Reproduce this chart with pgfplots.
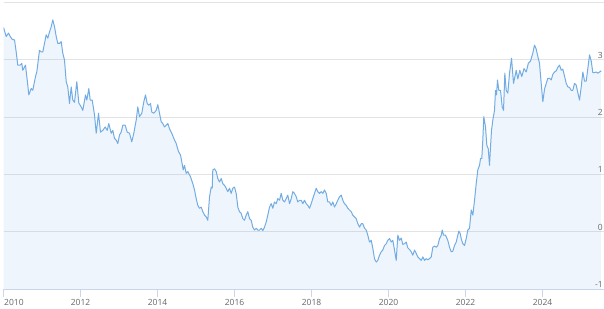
\documentclass[border=0pt]{standalone}
\usepackage{fontspec}
\setmainfont{Open Sans}
\usepackage{pgfplots}
\usepackage{pgfplotstable}
\pgfplotsset{compat=1.18}
\definecolor{linec}{HTML}{72ACE3}
\definecolor{fillc}{HTML}{7CB5EC}
\definecolor{gridc}{HTML}{E3E3E3}
\definecolor{axisc}{HTML}{CCD6EB}
\definecolor{labc}{HTML}{666666}
\pgfplotstableread{
x y
2010.000 3.57
2010.070 3.41
2010.130 3.47
2010.174 3.41
2010.226 3.36
2010.286 3.35
2010.330 3.14
2010.371 2.91
2010.434 2.91
2010.475 2.94
2010.501 2.82
2010.571 2.91
2010.631 2.56
2010.657 2.39
2010.719 2.50
2010.761 2.47
2010.831 2.71
2010.865 2.79
2010.935 3.17
2010.979 3.14
2011.021 3.14
2011.065 3.29
2011.109 3.44
2011.151 3.38
2011.195 3.49
2011.239 3.58
2011.281 3.70
2011.325 3.58
2011.369 3.41
2011.410 3.29
2011.455 3.29
2011.499 3.32
2011.540 3.12
2011.584 3.00
2011.629 2.62
2011.670 2.53
2011.714 2.24
2011.758 2.53
2011.800 2.30
2011.844 2.26
2011.904 2.62
2011.956 2.25
2012.018 2.18
2012.060 2.12
2012.130 2.39
2012.164 2.30
2012.216 2.50
2012.252 2.30
2012.304 2.30
2012.364 2.04
2012.408 1.72
2012.468 2.07
2012.519 1.74
2012.579 1.77
2012.642 1.83
2012.694 1.77
2012.735 1.89
2012.797 1.72
2012.839 1.77
2012.883 1.63
2012.927 1.60
2012.969 1.54
2013.013 1.69
2013.057 1.74
2013.099 1.86
2013.161 1.86
2013.213 1.74
2013.273 1.72
2013.332 1.57
2013.384 1.72
2013.447 1.95
2013.488 2.18
2013.532 2.01
2013.592 2.07
2013.644 2.27
2013.688 2.39
2013.732 2.24
2013.774 2.21
2013.818 2.24
2013.852 2.09
2013.904 2.07
2013.966 2.12
2014.008 2.22
2014.052 2.07
2014.096 1.92
2014.138 1.89
2014.182 1.83
2014.226 1.86
2014.268 1.89
2014.312 1.80
2014.371 1.72
2014.423 1.63
2014.486 1.54
2014.545 1.40
2014.597 1.34
2014.631 1.22
2014.668 1.08
2014.701 1.16
2014.745 1.02
2014.787 1.05
2014.857 0.96
2014.917 0.84
2014.961 0.73
2015.005 0.58
2015.047 0.46
2015.091 0.41
2015.135 0.43
2015.177 0.35
2015.221 0.29
2015.265 0.26
2015.306 0.20
2015.351 0.61
2015.395 0.78
2015.421 0.76
2015.436 1.08
2015.481 1.10
2015.525 1.05
2015.566 0.93
2015.610 0.87
2015.655 0.93
2015.696 0.84
2015.740 0.81
2015.784 0.76
2015.826 0.70
2015.870 0.76
2015.914 0.67
2015.956 0.76
2016.000 0.78
2016.044 0.67
2016.086 0.43
2016.130 0.35
2016.174 0.32
2016.216 0.23
2016.260 0.20
2016.304 0.29
2016.345 0.35
2016.390 0.23
2016.434 0.20
2016.475 0.08
2016.519 0.03
2016.564 0.06
2016.605 0.03
2016.649 0.03
2016.694 0.06
2016.735 0.02
2016.779 0.08
2016.823 0.17
2016.865 0.29
2016.909 0.43
2016.953 0.49
2016.995 0.41
2017.039 0.52
2017.083 0.49
2017.125 0.58
2017.169 0.55
2017.213 0.67
2017.255 0.55
2017.299 0.52
2017.343 0.58
2017.384 0.64
2017.429 0.49
2017.473 0.58
2017.514 0.70
2017.558 0.67
2017.603 0.61
2017.644 0.52
2017.688 0.55
2017.732 0.55
2017.774 0.49
2017.818 0.55
2017.862 0.49
2017.904 0.46
2017.948 0.41
2017.992 0.49
2018.034 0.58
2018.078 0.67
2018.122 0.76
2018.164 0.70
2018.208 0.67
2018.252 0.70
2018.294 0.67
2018.338 0.73
2018.382 0.67
2018.423 0.52
2018.468 0.52
2018.512 0.46
2018.553 0.52
2018.597 0.43
2018.642 0.49
2018.683 0.55
2018.727 0.61
2018.771 0.64
2018.813 0.55
2018.857 0.49
2018.901 0.46
2018.943 0.41
2018.987 0.38
2019.031 0.35
2019.073 0.29
2019.117 0.26
2019.161 0.23
2019.203 0.14
2019.247 0.08
2019.291 0.14
2019.332 0.14
2019.377 0.06
2019.421 0.03
2019.462 -0.06
2019.506 -0.18
2019.551 -0.15
2019.592 -0.29
2019.636 -0.47
2019.681 -0.53
2019.722 -0.50
2019.766 -0.41
2019.810 -0.35
2019.852 -0.32
2019.896 -0.24
2019.940 -0.21
2019.982 -0.15
2020.026 -0.12
2020.070 -0.18
2020.112 -0.15
2020.156 -0.32
2020.200 -0.50
2020.242 -0.06
2020.286 -0.15
2020.330 -0.11
2020.371 -0.22
2020.416 -0.21
2020.460 -0.18
2020.501 -0.28
2020.545 -0.31
2020.590 -0.35
2020.631 -0.41
2020.675 -0.32
2020.719 -0.38
2020.761 -0.44
2020.805 -0.47
2020.849 -0.50
2020.891 -0.44
2020.935 -0.50
2020.979 -0.47
2021.021 -0.49
2021.065 -0.47
2021.109 -0.44
2021.151 -0.27
2021.195 -0.25
2021.239 -0.27
2021.281 -0.24
2021.325 -0.12
2021.369 -0.06
2021.395 0.03
2021.429 -0.06
2021.481 -0.06
2021.540 -0.15
2021.584 -0.27
2021.629 -0.35
2021.670 -0.34
2021.714 -0.24
2021.758 -0.18
2021.800 -0.06
2021.826 0.01
2021.862 -0.03
2021.888 -0.12
2021.930 -0.21
2021.974 -0.24
2022.018 -0.12
2022.060 0.03
2022.104 0.06
2022.148 0.38
2022.190 0.29
2022.234 0.55
2022.278 0.84
2022.319 1.08
2022.364 1.16
2022.390 1.28
2022.423 1.28
2022.449 1.60
2022.475 2.01
2022.519 1.83
2022.553 1.51
2022.590 1.45
2022.623 1.16
2022.649 1.48
2022.675 1.77
2022.709 1.95
2022.753 2.12
2022.779 2.47
2022.805 2.39
2022.831 2.65
2022.865 2.47
2022.909 2.47
2022.953 2.18
2022.987 2.12
2023.021 2.77
2023.057 2.47
2023.099 2.42
2023.143 2.77
2023.195 3.03
2023.247 2.59
2023.317 2.82
2023.358 2.67
2023.410 2.82
2023.462 2.71
2023.519 2.85
2023.577 2.79
2023.631 2.94
2023.688 2.98
2023.748 3.12
2023.792 3.26
2023.836 3.19
2023.878 3.06
2023.922 2.94
2023.966 2.59
2024.008 2.27
2024.052 2.49
2024.096 2.59
2024.138 2.68
2024.182 2.68
2024.226 2.65
2024.268 2.75
2024.312 2.79
2024.356 2.81
2024.397 2.87
2024.442 2.91
2024.486 2.82
2024.527 2.84
2024.571 2.72
2024.616 2.59
2024.657 2.53
2024.701 2.52
2024.745 2.47
2024.787 2.47
2024.831 2.59
2024.875 2.56
2024.917 2.43
2024.961 2.30
2025.005 2.53
2025.047 2.79
2025.091 2.63
2025.135 2.63
2025.177 2.85
2025.221 3.09
2025.265 2.98
2025.306 2.78
2025.351 2.78
2025.395 2.79
2025.436 2.77
2025.481 2.79
2025.525 2.81
}\data
\begin{document}
\begin{tikzpicture}
\path[use as bounding box] (-3.5pt,-19pt) rectangle (600.5pt,289pt);
\begin{axis}[
  at={(0pt,0pt)}, anchor=south west,
  scale only axis, width=600.5pt, height=286.3pt,
  xmin=2010, xmax=2025.597, ymin=-1, ymax=4,
  axis x line*=bottom, axis y line*=right,
  x axis line style={draw=axisc, line width=1pt, -},
  y axis line style={draw=none},
  ytick={-1,0,1,2,3,4},
  yticklabels={\llap{-1},\llap{0},\llap{1},\llap{2},\llap{3},{}},
  ymajorgrids, grid style={draw=gridc, line width=1pt},
  ytick style={draw=none},
  xtick={2012,2014,...,2024},
  xticklabels={2012,2014,2016,2018,2020,2022,2024},
  extra x ticks={2010}, extra x tick labels={2010},
  extra x tick style={xticklabel style={anchor=north west, xshift=0.5pt}},
  xtick align=outside, ytick align=inside, major tick length=7.5pt,
  xtick style={draw=axisc, line width=1pt},
  xticklabel style={font=\fontsize{8.5}{10}\selectfont, text=labc, inner sep=0pt, anchor=north, yshift=-3pt},
  yticklabel style={font=\fontsize{8.5}{10}\selectfont, text=labc, inner sep=0pt, xshift=-2pt, yshift=4.7pt},
]
\addplot[draw=none, fill=fillc, fill opacity=0.13] table[x=x, y=y] {\data} |- (axis cs:2010,-1) -- cycle;
\addplot[linec, line width=1pt, mark=none, line join=round] table[x=x, y=y] {\data};
\end{axis}
\end{tikzpicture}
\end{document}
